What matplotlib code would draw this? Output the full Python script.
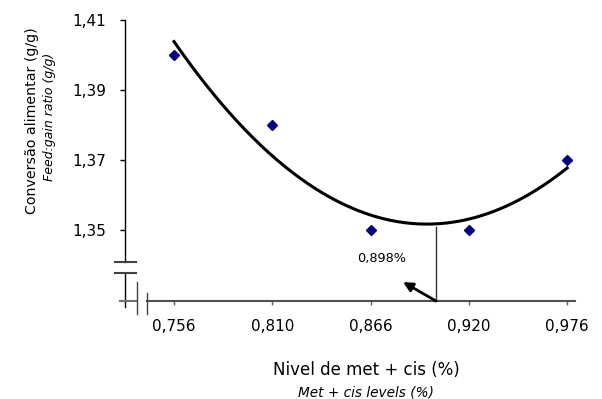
import numpy as np
import matplotlib
matplotlib.use("Agg")
import matplotlib.pyplot as plt

# data
met_cis = [0.756, 0.810, 0.866, 0.920, 0.976]
level_labels = ["0,756", "0,810", "0,866", "0,920", "0,976"]
feed_gain = [1.40, 1.38, 1.35, 1.35, 1.37]
y_ticks = [1.35, 1.37, 1.39, 1.41]
y_tick_labels = ["1,35", "1,37", "1,39", "1,41"]
optimum_label = "0,898%"

W, H = 602, 399
fig = plt.figure(figsize=(W / 100, H / 100), dpi=100)
plt.rcParams['font.family'] = ['DejaVu Sans']

# axes box in pixels: x 125..575, y 19.5..301
ax = fig.add_axes([125 / W, 1 - 301 / H, 450 / W, 281.5 / H])
pos = np.arange(len(met_cis))
ax.set_xlim(-0.4985, 4.079)
ax.set_ylim(1.3298, 1.41)
for s in ax.spines.values():
    s.set_visible(False)

# quadratic trend (like the excel trendline)
coef = np.polyfit(pos, feed_gain, 2)
xs = np.linspace(pos[0], pos[-1], 200)
ax.plot(xs, np.polyval(coef, xs), color="black", lw=2.2, zorder=3)
ax.plot(pos, feed_gain, linestyle="none", marker="D", markersize=5,
        color="#000080", zorder=4)

# optimum marker line + arrow
line_x = 2.665
ax.plot([line_x, line_x], [np.polyval(coef, line_x) - 0.0008, 1.3298],
        color="#333333", lw=1, zorder=2)
ax.annotate("", xy=(2.33, 1.3352), xytext=(line_x, 1.3298),
            arrowprops=dict(arrowstyle="-|>", color="black", lw=2,
                            mutation_scale=14, shrinkA=0, shrinkB=0))
ax.text(2.116, 1.3418, optimum_label, ha="center", va="center", fontsize=9.3)

# ticks
ax.set_xticks(pos)
ax.set_xticklabels(level_labels, fontsize=11)
ax.set_yticks(y_ticks)
ax.set_yticklabels(y_tick_labels, fontsize=11)
ax.tick_params(axis="y", direction="out", length=3.6, width=1, pad=9.8)
ax.tick_params(axis="x", direction="out", length=3, width=1, color="#606060", pad=10)

# broken axes drawn by hand
T = ax.transAxes
kw = dict(transform=T, clip_on=False)
ax.plot([0, 0], [1.0, 0.1385], color="black", lw=1, **kw)
ax.plot([0, 0], [0.0995, -0.0213], color="black", lw=1, **kw)
ax.plot([-0.0222, 0.0244], [0.1385, 0.1385], color="#404040", lw=1.5, **kw)
ax.plot([-0.0222, 0.0244], [0.0995, 0.0995], color="#404040", lw=1.5, **kw)
ax.plot([-0.0111, 0.0267], [0, 0], color="#707070", lw=1.5, **kw)
ax.plot([0.0489, 1.0], [0, 0], color="#505050", lw=1.5, **kw)
ax.plot([0.0267, 0.0267], [0.0675, -0.0462], color="#404040", lw=1, **kw)
ax.plot([0.0489, 0.0489], [0.0284, -0.0462], color="#404040", lw=1, **kw)

# axis titles
fig.text(366 / W, 1 - 370 / H, "Nivel de met + cis (%)", ha="center", va="center", fontsize=12)
fig.text(366 / W, 1 - 392 / H, "Met + cis levels (%)", ha="center", va="center",
         fontsize=9.8, style="italic")
fig.text(32 / W, 1 - 121 / H, "Conversão alimentar (g/g)", ha="center", va="center",
         fontsize=10.2, rotation=90)
fig.text(50 / W, 1 - 117 / H, "Feed:gain ratio (g/g)", ha="center", va="center",
         fontsize=9, style="italic", rotation=90)

fig.savefig("out.png", dpi=100)
